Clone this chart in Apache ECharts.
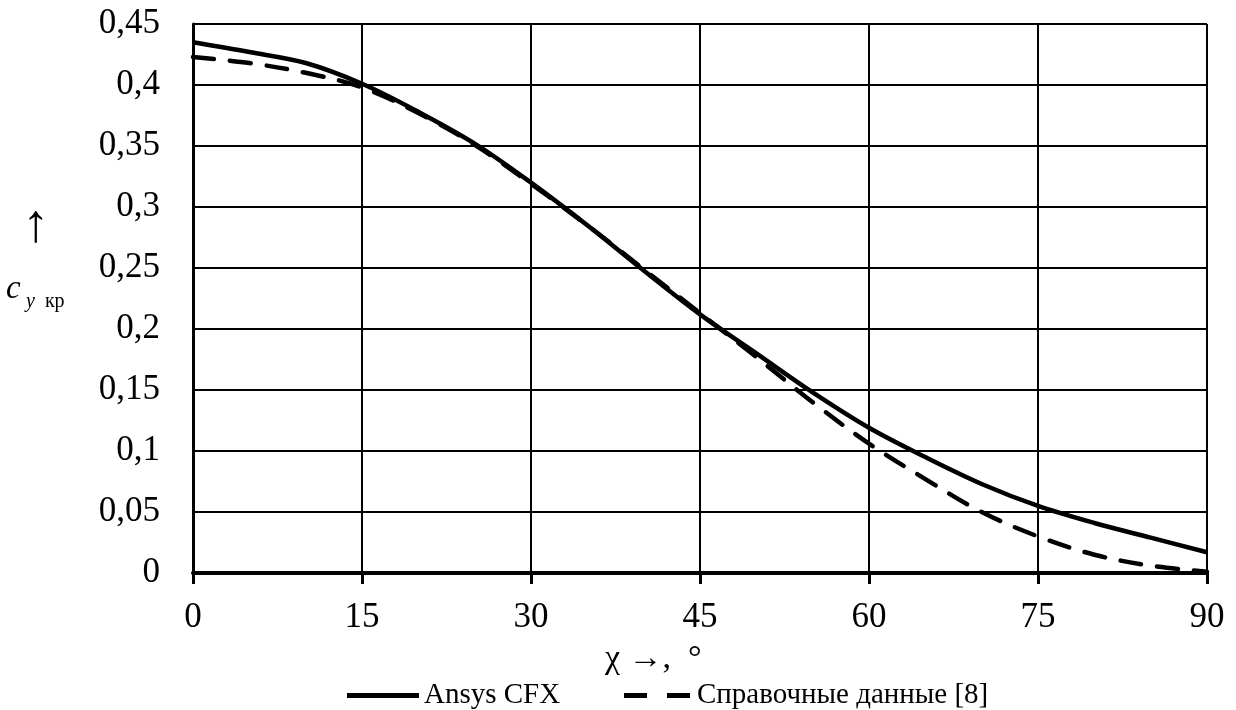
<!DOCTYPE html>
<html>
<head>
<meta charset="utf-8">
<script src="https://cdn.jsdelivr.net/npm/echarts@6/dist/echarts.min.js"></script>
<style>
  html, body { margin: 0; padding: 0; background: #fff; }
  #chart { width: 1236px; height: 710px; }
</style>
</head>
<body>
<div id="chart"></div>
<script>
// Sweep angle χ, degrees
const chi = [0, 5, 10, 15, 20, 25, 30, 35, 40, 45, 50, 55, 60, 65, 70, 75, 80, 85, 90];
// c_y кр computed in Ansys CFX
const cfx = [0.435, 0.427, 0.418, 0.401, 0.378, 0.352, 0.320, 0.285, 0.248, 0.212, 0.180, 0.148, 0.119, 0.095, 0.073, 0.055, 0.041, 0.029, 0.017];
// c_y кр reference data [8]
const ref = [0.423, 0.418, 0.410, 0.398, 0.377, 0.351, 0.319, 0.285, 0.249, 0.213, 0.177, 0.140, 0.106, 0.077, 0.050, 0.030, 0.015, 0.006, 0.001];
const seriesNames = ['Ansys CFX', 'Справочные данные [8]'];

const FONT = 'Liberation Serif';
const pairs = (xs, ys) => xs.map((x, i) => [x, ys[i]]);

const legendText = { fontFamily: FONT, fontSize: 29, color: '#000' };

const chart = echarts.init(document.getElementById('chart'), null, { renderer: 'canvas' });
chart.setOption({
  backgroundColor: '#fff',
  animation: false,
  textStyle: { fontFamily: FONT, color: '#000' },
  grid: { left: 193, right: 29, top: 24, bottom: 137, containLabel: false },
  xAxis: {
    type: 'value', min: 0, max: 90, interval: 15,
    axisLine: { show: true, onZero: false, lineStyle: { color: '#000', width: 4 } },
    axisTick: { show: true, inside: false, length: 11, lineStyle: { color: '#000', width: 3 } },
    axisLabel: { fontFamily: FONT, fontSize: 35, color: '#000', margin: 27 },
    splitLine: { show: true, lineStyle: { color: '#000', width: 2 } }
  },
  yAxis: {
    type: 'value', min: 0, max: 0.45, interval: 0.05,
    axisLine: { show: true, lineStyle: { color: '#000', width: 3 } },
    axisTick: { show: false },
    axisLabel: {
      fontFamily: FONT, fontSize: 35, color: '#000', margin: 33,
      formatter: v => String(Math.round(v * 100) / 100).replace('.', ',')
    },
    splitLine: { show: true, lineStyle: { color: '#000', width: 2 } }
  },
  legend: [
    {
      left: 342, top: 676, itemWidth: 72, itemHeight: 5, itemGap: 0,
      textStyle: legendText,
      data: [{ name: seriesNames[0], icon: 'rect' }]
    },
    {
      left: 619, top: 676, itemWidth: 66, itemHeight: 5, itemGap: 0,
      textStyle: Object.assign({}, legendText, { padding: [0, 0, 0, 2] }),
      data: [{ name: seriesNames[1], icon: 'path://M0,0H23V5H0Z M43,0H66V5H43Z' }]
    }
  ],
  graphic: [
    // y-axis title: arrow above c_y кр
    {
      type: 'text', x: 36, y: 227,
      style: { text: '↑', font: '54px "Liberation Serif"', fill: '#000', align: 'center', verticalAlign: 'middle' }
    },
    {
      type: 'text', x: 6, y: 289,
      style: { text: 'c', font: 'italic 33px "Liberation Serif"', fill: '#000', align: 'left', verticalAlign: 'middle' }
    },
    {
      type: 'text', x: 26, y: 302,
      style: {
        text: '{i|y}  кр',
        font: '20px "Liberation Serif"', fill: '#000', align: 'left', verticalAlign: 'middle',
        rich: { i: { fontFamily: FONT, fontStyle: 'italic', fontSize: 20 } }
      }
    },
    // x-axis title
    {
      type: 'text', x: 605, y: 659,
      style: { text: 'χ →,  °', font: '34px "Liberation Serif"', fill: '#000', align: 'left', verticalAlign: 'middle' }
    }
  ],
  series: [
    {
      name: seriesNames[0], type: 'line', smooth: 0.35, symbol: 'none',
      data: pairs(chi, cfx),
      lineStyle: { color: '#000', width: 4.5 },
      itemStyle: { color: '#000' }
    },
    {
      name: seriesNames[1], type: 'line', smooth: 0.35, symbol: 'none',
      data: pairs(chi, ref),
      lineStyle: { color: '#000', width: 4.5, type: [21, 16], cap: 'round' },
      itemStyle: { color: '#000' }
    }
  ]
});
</script>
</body>
</html>
